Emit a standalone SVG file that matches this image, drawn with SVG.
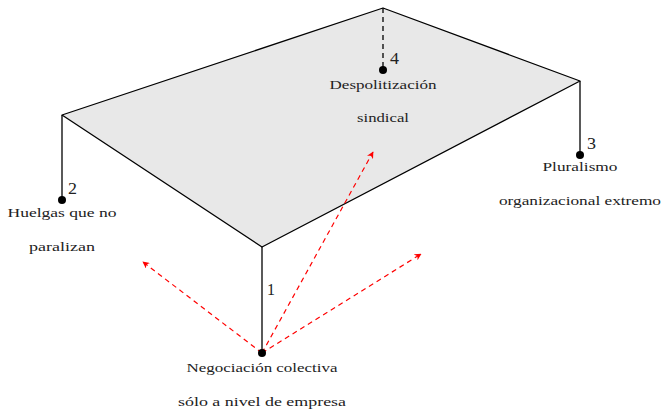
<svg xmlns="http://www.w3.org/2000/svg" width="665" height="409" viewBox="0 0 665 409">
<defs>
<style>
.lbl{font-family:"Liberation Serif","DejaVu Serif",serif;font-size:13.5px;fill:#222;text-anchor:middle}
.num{font-family:"Liberation Serif","DejaVu Serif",serif;font-size:17px;fill:#222}
.edge{stroke:#000;stroke-width:1.3;fill:none}
.red{stroke:#ff0000;stroke-width:1.2;stroke-dasharray:5,4;fill:none;marker-end:url(#ah)}
</style>
<marker id="ah" viewBox="0 0 10 10" refX="9" refY="5" markerWidth="7" markerHeight="7" orient="auto" markerUnits="userSpaceOnUse">
<path d="M0,0 L10,5 L0,10 L3,5 Z" fill="#ff0000"/>
</marker>
</defs>
<rect width="665" height="409" fill="#fff"/>
<g id="plane">
<polygon points="62,115 383,8 580,81 262,247" fill="#e8e8e8" stroke="#000" stroke-width="1.3" stroke-linejoin="round"/>
</g>
<g id="connectors">
<line class="edge" x1="62" y1="115" x2="62" y2="200"/>
<line class="edge" x1="580" y1="81" x2="580" y2="155"/>
<line class="edge" x1="262" y1="247" x2="262" y2="353"/>
<line class="edge" x1="383" y1="8" x2="383" y2="70" stroke-dasharray="5,4"/>
<line class="red" x1="262" y1="353" x2="143" y2="262"/>
<line class="red" x1="262" y1="353" x2="373" y2="152"/>
<line class="red" x1="262" y1="353" x2="421" y2="254"/>
</g>
<g id="node1">
<circle cx="262" cy="353" r="4" fill="#000"/>
<text class="num" x="267" y="295" textLength="8" lengthAdjust="spacingAndGlyphs">1</text>
<text class="lbl" x="262" y="372" textLength="151" lengthAdjust="spacingAndGlyphs">Negociación colectiva</text>
<text class="lbl" x="262" y="406" textLength="168" lengthAdjust="spacingAndGlyphs">sólo a nivel de empresa</text>
</g>
<g id="node2">
<circle cx="62" cy="200" r="4" fill="#000"/>
<text class="num" x="68" y="194" textLength="9" lengthAdjust="spacingAndGlyphs">2</text>
<text class="lbl" x="62" y="217" textLength="109" lengthAdjust="spacingAndGlyphs">Huelgas que no</text>
<text class="lbl" x="62" y="251" textLength="66" lengthAdjust="spacingAndGlyphs">paralizan</text>
</g>
<g id="node3">
<circle cx="580" cy="155" r="4" fill="#000"/>
<text class="num" x="587" y="149" textLength="9" lengthAdjust="spacingAndGlyphs">3</text>
<text class="lbl" x="580" y="171" textLength="75" lengthAdjust="spacingAndGlyphs">Pluralismo</text>
<text class="lbl" x="580" y="205" textLength="162" lengthAdjust="spacingAndGlyphs">organizacional extremo</text>
</g>
<g id="node4">
<circle cx="383" cy="70" r="4" fill="#000"/>
<text class="num" x="390" y="64" textLength="9" lengthAdjust="spacingAndGlyphs">4</text>
<text class="lbl" x="383" y="89" textLength="107" lengthAdjust="spacingAndGlyphs">Despolitización</text>
<text class="lbl" x="383" y="122" textLength="52" lengthAdjust="spacingAndGlyphs">sindical</text>
</g>
</svg>
